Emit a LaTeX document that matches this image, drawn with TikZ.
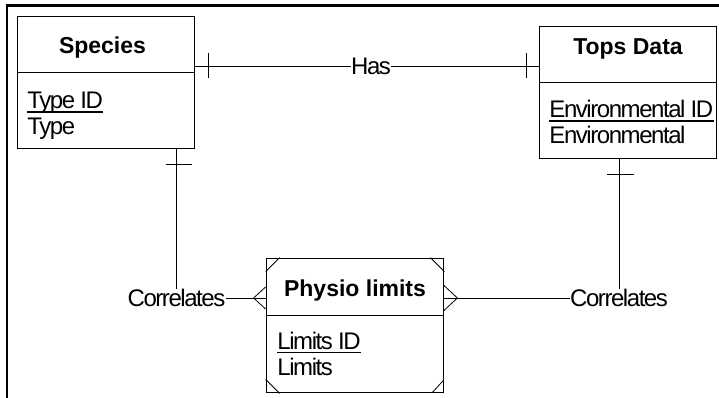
\documentclass[tikz,border=0pt]{standalone}
\usepackage{fontspec}
\setmainfont{Liberation Sans}
\newfontfamily\erfont[LetterSpace=-6]{Liberation Sans}
\usepackage{tikz}
\usetikzlibrary{calc,positioning}

\begin{document}
\begin{tikzpicture}[x=1pt,y=-1pt,line width=0.8pt,
  entity/.style={draw,inner sep=0pt,minimum width=177pt,minimum height=132pt},
  etitle/.style={font=\fontsize{23}{27}\selectfont\bfseries,inner sep=0pt,anchor=base},
  attr/.style={font=\fontsize{24}{28}\erfont,inner sep=0pt,anchor=base west},
  rel/.style={font=\fontsize{24}{28}\erfont,inner sep=0pt},
  keyline/.style={line width=1.8pt}]
  \useasboundingbox (0,0) rectangle (719,398);
  % page frame (only top and left edges show)
  \draw[line width=2.4pt] (719,5.5) -- (6.7,5.5) -- (6.7,398);
  % entity boxes
  \node[entity] (sp) at (105.5,82) {};
  \node[entity] (td) at (627.5,92) {};
  \node[entity,minimum height=134pt] (pl) at (354.5,325) {};
  \draw ($(sp.north west)+(0,57)$) -- ($(sp.north east)+(0,57)$);
  \draw ($(td.north west)+(0,57)$) -- ($(td.north east)+(0,57)$);
  \draw ($(pl.north west)+(0,58)$) -- ($(pl.north east)+(0,58)$);
  % associative corners on Physio limits
  \draw ($(pl.north west)+(0,14)$) -- ($(pl.north west)+(14,0)$);
  \draw ($(pl.north east)+(-13,0)$) -- ($(pl.north east)+(1,14)$);
  \draw ($(pl.south west)+(0,-13)$) -- ($(pl.south west)+(14,1)$);
  \draw ($(pl.south east)+(-11,0)$) -- ($(pl.south east)+(0,-12)$);
  % titles
  \node[etitle] (sptitle) at (102.5,54) {Species};
  \node[etitle] (tdtitle) at (628,55) {Tops Data};
  \node[etitle] (pltitle) at (355,296.5) {Physio limits};
  % attributes, keys underlined
  \node[attr] (spkey) at (27,108.5) {Type ID};
  \node[attr] (spatt) at (27,134.5) {Type};
  \node[attr] (tdkey) at (549,117.5) {Environmental ID};
  \node[attr] (tdatt) at (549,144) {Environmental};
  \node[attr] (plkey) at (277,349) {Limits ID};
  \node[attr] (platt) at (277,375.5) {Limits};
  \foreach \k in {spkey,tdkey,plkey}
    \draw[keyline] ($(\k.base west)+(0,3.5)$) -- ($(\k.base east)+(0,3.5)$);
  % relationships
  \node[rel] (has) at (371,66) {Has};
  \node[rel] (corl) at (176.5,298) {Correlates};
  \node[rel] (corr) at (619,298) {Correlates};
  \draw (has.west) -- (has.west -| sp.east);
  \draw (has.east) -- (has.east -| td.west);
  \draw (corl.north) -- (corl.north |- sp.south);
  \draw (corr.north) -- (corr.north |- td.south);
  \draw (corl.east) -- (corl.east -| pl.west);
  \draw (corr.west) -- (corr.west -| pl.east);
  % one marks
  \draw ($(has.west -| sp.east)+(14,-12.5)$) -- ++(0,25);
  \draw ($(has.east -| td.west)+(-12,-12.5)$) -- ++(0,25);
  \draw ($(corl.north |- sp.south)+(-11,16)$) -- ++(26,0);
  \draw ($(corr.north |- td.south)+(-12,16)$) -- ++(27,0);
  % many marks (crow's feet)
  \coordinate (cfl) at (corl.east -| pl.west);
  \coordinate (cfr) at (corr.west -| pl.east);
  \draw ($(cfl)+(0,-11)$) -- ($(cfl)+(-12,0)$) -- ($(cfl)+(0,11)$);
  \draw ($(cfr)+(0,-13)$) -- ($(cfr)+(14,0)$) -- ($(cfr)+(0,13)$);
\end{tikzpicture}
\end{document}
